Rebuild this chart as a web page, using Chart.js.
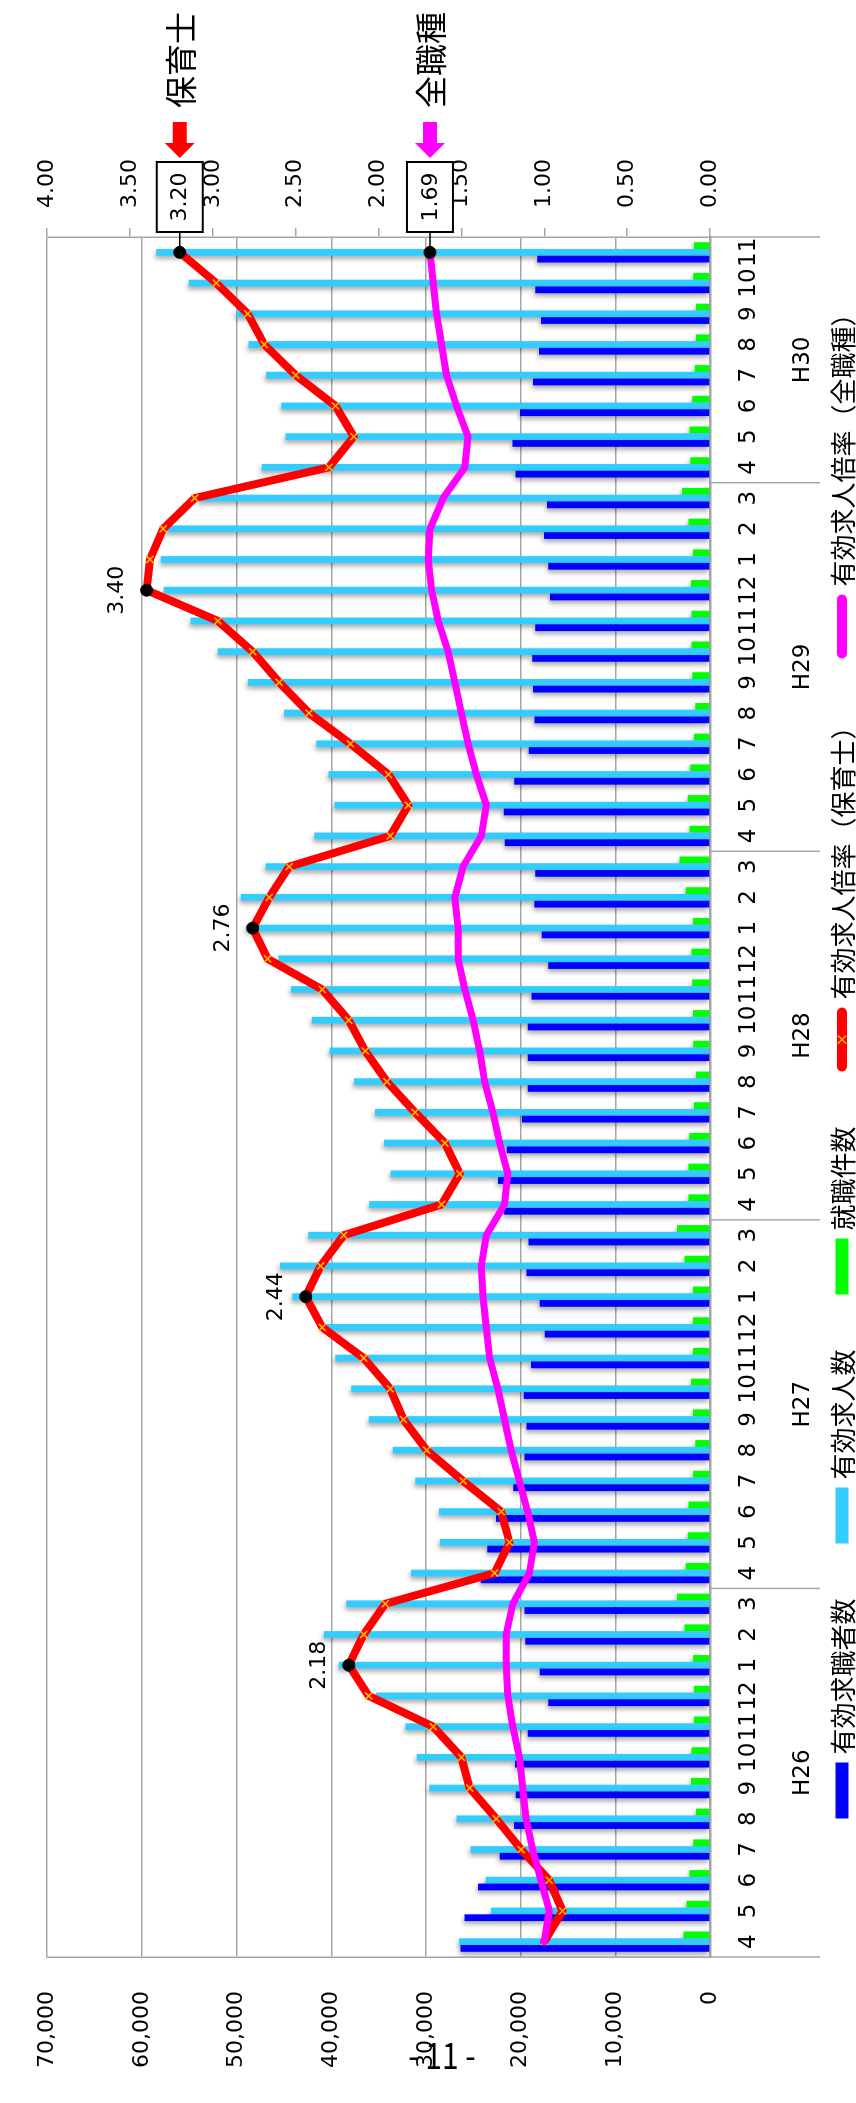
<!DOCTYPE html>
<html lang="ja">
<head>
<meta charset="utf-8">
<title>有効求人倍率の推移</title>
<script src="https://cdn.jsdelivr.net/npm/chart.js@4.4.1/dist/chart.umd.min.js"></script>
<style>
html,body{margin:0;padding:0;width:856px;height:2103px;overflow:hidden;background:#fff;}
#rot{position:absolute;left:0;top:0;width:2103px;height:856px;transform-origin:0 0;transform:translate(0,2103px) rotate(-90deg);}
#rot canvas{display:block;}
#pageno{position:absolute;left:372px;top:2038px;width:140px;text-align:center;font:30px "Noto Sans CJK JP";line-height:30px;color:#000;transform:scaleY(1.2);}
</style>
</head>
<body>
<div id="rot"><canvas id="chart" width="2103" height="856" style="width:2103px;height:856px"></canvas></div>
<div id="pageno">- 11 -</div>
<script>
// 月（カテゴリ）と年度
const months = [
  '4','5','6','7','8','9','10','11','12','1','2','3',
  '4','5','6','7','8','9','10','11','12','1','2','3',
  '4','5','6','7','8','9','10','11','12','1','2','3',
  '4','5','6','7','8','9','10','11','12','1','2','3',
  '4','5','6','7','8','9','10','11'
];
const fiscalYears = [
  ...Array(12).fill('H26'), ...Array(12).fill('H27'), ...Array(12).fill('H28'),
  ...Array(12).fill('H29'), ...Array(8).fill('H30')
];

// 有効求職者数
const jobSeekers = [
  26340, 25940, 24490, 22200, 20710, 20510, 20590, 19260, 17090, 17970, 19500, 19580,
  24210, 23520, 22600, 20790, 19580, 19380, 19660, 18900, 17450, 17970, 19380, 19180,
  21790, 22400, 21470, 19860, 19260, 19260, 19260, 18860, 17090, 17770, 18570, 18450,
  21670, 21790, 20670, 19140, 18530, 18700, 18780, 18450, 16890, 17090, 17530, 17210,
  20550, 20870, 20060, 18700, 18050, 17850, 18450, 18250
];
// 有効求人数
const jobOpenings = [
  26500, 23120, 23680, 25290, 26780, 29640, 30970, 32170, 35300, 39210, 40780, 38410,
  31570, 28550, 28630, 31130, 33500, 36030, 37890, 39570, 40830, 44120, 45410, 42430,
  36000, 33740, 34430, 35390, 37600, 40180, 42070, 44240, 45600, 48950, 49550, 46940,
  41790, 39650, 40300, 41590, 45000, 48830, 52000, 54860, 57680, 58000, 57520, 54000,
  47340, 44840, 45290, 46900, 48750, 50030, 55060, 58480
];
// 就職件数
const placements = [
  2800, 2480, 2160, 1760, 1480, 2000, 1960, 1680, 1680, 1800, 2680, 3490,
  2560, 2360, 2280, 1800, 1560, 1800, 2000, 1800, 1800, 1800, 2680, 3490,
  2280, 2280, 2200, 1680, 1480, 1760, 1800, 1880, 1960, 1800, 2560, 3210,
  2160, 2360, 2080, 1680, 1560, 1880, 1960, 1960, 2000, 1800, 2280, 2960,
  2080, 2160, 1880, 1600, 1480, 1480, 1760, 1680
];
// 有効求人倍率（保育士）
const ratioNursery = [
  1.00, 0.89, 0.97, 1.14, 1.29, 1.45, 1.50, 1.67, 2.06, 2.18, 2.09, 1.96,
  1.30, 1.21, 1.26, 1.49, 1.71, 1.85, 1.93, 2.09, 2.34, 2.44, 2.35, 2.21,
  1.62, 1.51, 1.60, 1.78, 1.95, 2.08, 2.18, 2.34, 2.67, 2.76, 2.66, 2.54,
  1.93, 1.82, 1.94, 2.17, 2.42, 2.60, 2.76, 2.97, 3.40, 3.38, 3.30, 3.11,
  2.30, 2.15, 2.26, 2.50, 2.69, 2.79, 2.98, 3.20
];
// 有効求人倍率（全職種）
const ratioAll = [
  1.00, 0.97, 1.02, 1.07, 1.11, 1.13, 1.15, 1.19, 1.22, 1.23, 1.23, 1.19,
  1.09, 1.06, 1.10, 1.15, 1.20, 1.24, 1.28, 1.33, 1.35, 1.37, 1.38, 1.35,
  1.24, 1.22, 1.27, 1.31, 1.36, 1.39, 1.43, 1.48, 1.52, 1.52, 1.54, 1.49,
  1.38, 1.35, 1.41, 1.46, 1.50, 1.54, 1.58, 1.64, 1.68, 1.70, 1.69, 1.61,
  1.48, 1.46, 1.53, 1.59, 1.62, 1.65, 1.67, 1.69
];

const seriesNames = ['有効求職者数', '有効求人数', '就職件数', '有効求人倍率（保育士）', '有効求人倍率（全職種）'];
const calloutNames = ['保育士', '全職種'];
const countAxis = { min: 0, max: 70000, step: 10000 };
const ratioAxis = { min: 0, max: 4, step: 0.5 };

const COL = {
  seekers: '#0000FF', openings: '#33CCFF', placements: '#00FF00',
  nursery: '#FF0000', all: '#FF00FF', cross: '#FFC000', grid: '#A6A6A6'
};
const NUM_FONT = '"DejaVu Sans", sans-serif';
const JP_FONT = '"Noto Sans CJK JP", sans-serif';

// 年度ごとの保育士倍率の最大月
const lastIdx = months.length - 1;
const peakIdx = new Set();
(function () {
  let start = 0;
  for (let i = 1; i <= months.length; i++) {
    if (i === months.length || fiscalYears[i] !== fiscalYears[start]) {
      let m = start;
      for (let j = start; j < i; j++) if (ratioNursery[j] > ratioNursery[m]) m = j;
      peakIdx.add(m);
      start = i;
    }
  }
})();

const decor = {
  id: 'decor',
  beforeDatasetDraw(chart, args) {
    if (args.meta.type === 'bar') {
      const c = chart.ctx;
      c.save();
      c.shadowColor = 'rgba(0,0,0,0.35)';
      c.shadowBlur = 5;
      c.shadowOffsetX = -3;
      c.shadowOffsetY = -1;
    }
  },
  afterDatasetDraw(chart, args) {
    if (args.meta.type === 'bar') chart.ctx.restore();
  },
  afterDraw(chart) {
    const ctx = chart.ctx;
    const a = chart.chartArea;
    const xs = chart.scales.x;
    ctx.save();

    // 年度の区切り線と年度ラベル
    const half = (xs.getPixelForValue(1) - xs.getPixelForValue(0)) / 2;
    const groups = [];
    let start = 0;
    for (let i = 1; i <= months.length; i++) {
      if (i === months.length || fiscalYears[i] !== fiscalYears[start]) {
        groups.push({ label: fiscalYears[start], x0: xs.getPixelForValue(start) - half, x1: xs.getPixelForValue(i - 1) + half });
        start = i;
      }
    }
    ctx.strokeStyle = COL.grid;
    ctx.lineWidth = 1.5;
    const sepXs = groups.map(g => g.x0).concat([groups[groups.length - 1].x1]);
    sepXs.forEach(px => {
      ctx.beginPath();
      ctx.moveTo(px, a.bottom);
      ctx.lineTo(px, a.bottom + 110);
      ctx.stroke();
    });
    ctx.fillStyle = '#000';
    ctx.font = '23px ' + NUM_FONT;
    ctx.textAlign = 'center';
    ctx.textBaseline = 'middle';
    groups.forEach(g => ctx.fillText(g.label, (g.x0 + g.x1) / 2, a.bottom + 93));

    // 凡例
    const ds = chart.data.datasets;
    ctx.font = '26px ' + JP_FONT;
    const keyW = ds.map(d => d.type === 'line' ? 64 : 56);
    const textW = ds.map(d => ctx.measureText(d.label).width);
    const gap = 8, itemGap = 55;
    let total = itemGap * (ds.length - 1);
    ds.forEach((d, i) => { total += keyW[i] + gap + textW[i]; });
    let cx = (chart.width - total) / 2 - 8;
    const cy = 842;
    ds.forEach((d, i) => {
      if (d.type === 'line') {
        ctx.strokeStyle = d.borderColor;
        ctx.lineWidth = 10;
        ctx.lineCap = 'round';
        ctx.beginPath();
        ctx.moveTo(cx + 5, cy);
        ctx.lineTo(cx + keyW[i] - 5, cy);
        ctx.stroke();
        if (i === 3) {
          ctx.strokeStyle = COL.cross;
          ctx.lineWidth = 1.5;
          ctx.lineCap = 'butt';
          const mx = cx + keyW[i] / 2;
          ctx.beginPath();
          ctx.moveTo(mx - 4, cy - 4); ctx.lineTo(mx + 4, cy + 4);
          ctx.moveTo(mx - 4, cy + 4); ctx.lineTo(mx + 4, cy - 4);
          ctx.stroke();
        }
      } else {
        ctx.fillStyle = d.backgroundColor;
        ctx.fillRect(cx, cy - 6.5, keyW[i], 13);
      }
      ctx.fillStyle = '#000';
      ctx.textAlign = 'left';
      ctx.textBaseline = 'middle';
      ctx.fillText(d.label, cx + keyW[i] + gap, cy + 1);
      cx += keyW[i] + gap + textW[i] + itemGap;
    });

    // 年度ピークの値ラベル
    const nurseryMeta = chart.getDatasetMeta(3);
    ctx.font = '22px ' + NUM_FONT;
    ctx.textAlign = 'center';
    ctx.textBaseline = 'alphabetic';
    ctx.fillStyle = '#000';
    peakIdx.forEach(i => {
      if (i === lastIdx) return;
      const p = nurseryMeta.data[i];
      ctx.fillText(ratioNursery[i].toFixed(2), p.x, p.y - 24);
    });

    // 最新月の値と系列名
    [3, 4].forEach((di, n) => {
      const p = chart.getDatasetMeta(di).data[lastIdx];
      const v = ds[di].data[lastIdx];
      const bx = a.right + 5, bw = 70, bh = 46, by = p.y - bh / 2;
      ctx.strokeStyle = '#000';
      ctx.lineWidth = 1.5;
      ctx.beginPath();
      ctx.moveTo(p.x, p.y);
      ctx.lineTo(bx, p.y);
      ctx.stroke();
      ctx.fillStyle = '#fff';
      ctx.fillRect(bx, by, bw, bh);
      ctx.lineWidth = 2;
      ctx.strokeRect(bx, by, bw, bh);
      ctx.fillStyle = '#000';
      ctx.font = '22px ' + NUM_FONT;
      ctx.textAlign = 'center';
      ctx.textBaseline = 'middle';
      ctx.fillText(v.toFixed(2), bx + bw / 2, p.y + 1);

      const tip = bx + bw + 4, tail = tip + 36;
      ctx.fillStyle = ds[di].borderColor;
      ctx.beginPath();
      ctx.moveTo(tip, p.y);
      ctx.lineTo(tip + 15, p.y - 15);
      ctx.lineTo(tip + 15, p.y - 7);
      ctx.lineTo(tail, p.y - 7);
      ctx.lineTo(tail, p.y + 7);
      ctx.lineTo(tip + 15, p.y + 7);
      ctx.lineTo(tip + 15, p.y + 15);
      ctx.closePath();
      ctx.fill();

      ctx.fillStyle = '#000';
      ctx.font = '32px ' + JP_FONT;
      ctx.textAlign = 'left';
      ctx.fillText(calloutNames[n], tail + 14, p.y + 1);
    });
    ctx.restore();
  }
};

const barCommon = { categoryPercentage: 0.66, barPercentage: 1.0, borderWidth: 0, yAxisID: 'y', order: 2 };

new Chart(document.getElementById('chart'), {
  type: 'bar',
  data: {
    labels: months,
    datasets: [
      Object.assign({ label: seriesNames[0], data: jobSeekers, backgroundColor: COL.seekers }, barCommon),
      Object.assign({ label: seriesNames[1], data: jobOpenings, backgroundColor: COL.openings }, barCommon),
      Object.assign({ label: seriesNames[2], data: placements, backgroundColor: COL.placements }, barCommon),
      {
        type: 'line', label: seriesNames[3], data: ratioNursery, yAxisID: 'y1', order: 1,
        borderColor: COL.nursery, backgroundColor: COL.nursery, borderWidth: 8,
        tension: 0, fill: false, borderJoinStyle: 'round', borderCapStyle: 'round',
        pointStyle: c => (peakIdx.has(c.dataIndex) ? 'circle' : 'crossRot'),
        pointRadius: c => (peakIdx.has(c.dataIndex) ? 6 : 5),
        pointBackgroundColor: c => (peakIdx.has(c.dataIndex) ? '#000' : COL.cross),
        pointBorderColor: c => (peakIdx.has(c.dataIndex) ? '#000' : COL.cross),
        pointBorderWidth: c => (peakIdx.has(c.dataIndex) ? 1 : 1.5)
      },
      {
        type: 'line', label: seriesNames[4], data: ratioAll, yAxisID: 'y1', order: 0,
        borderColor: COL.all, backgroundColor: COL.all, borderWidth: 7,
        tension: 0, fill: false, borderJoinStyle: 'round', borderCapStyle: 'round',
        pointRadius: c => (c.dataIndex === lastIdx ? 6 : 0),
        pointBackgroundColor: '#000', pointBorderColor: '#000', pointBorderWidth: 1
      }
    ]
  },
  options: {
    responsive: false,
    animation: false,
    events: [],
    layout: { padding: { top: 22, left: 0, right: 0, bottom: 0 } },
    plugins: { legend: { display: false }, tooltip: { enabled: false } },
    scales: {
      x: {
        type: 'category',
        offset: true,
        afterFit: s => { s.height = 146; },
        grid: { display: false },
        border: { display: true, color: COL.grid, width: 2.5 },
        ticks: { autoSkip: false, maxRotation: 0, minRotation: 0, padding: 17, color: '#000', font: { family: NUM_FONT, size: 23 } }
      },
      y: {
        position: 'left',
        min: countAxis.min, max: countAxis.max,
        afterFit: s => { s.width = 146; },
        grid: { color: COL.grid, lineWidth: 1.5, drawTicks: false },
        border: { display: true, color: COL.grid, width: 1.5 },
        ticks: {
          stepSize: countAxis.step, padding: 34, color: '#000',
          font: { family: NUM_FONT, size: 22 },
          callback: v => Number(v).toLocaleString('en-US')
        }
      },
      y1: {
        position: 'right',
        min: ratioAxis.min, max: ratioAxis.max,
        afterFit: s => { s.width = 237; },
        grid: { drawOnChartArea: false, drawTicks: true, tickLength: 9, color: COL.grid, lineWidth: 1.5 },
        border: { display: true, color: COL.grid, width: 1.5 },
        ticks: {
          stepSize: ratioAxis.step, padding: 20, color: '#000',
          font: { family: NUM_FONT, size: 22 },
          callback: v => Number(v).toFixed(2)
        }
      }
    }
  },
  plugins: [decor]
});
</script>
</body>
</html>
